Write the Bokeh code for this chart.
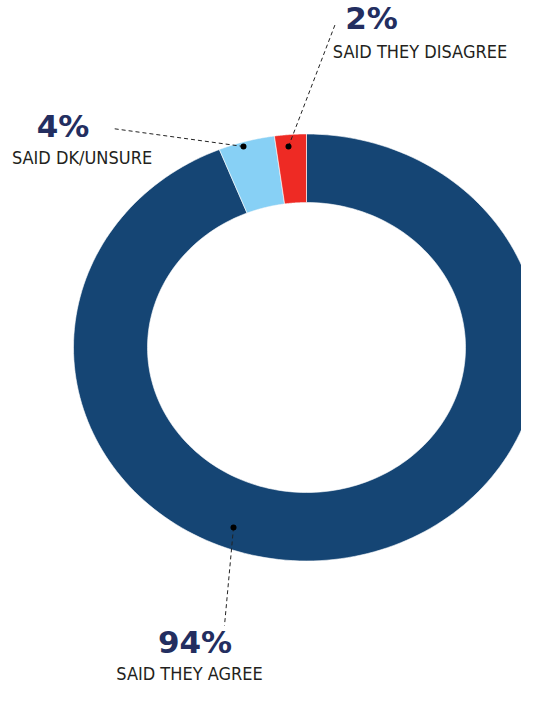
import numpy as np
from bokeh.plotting import figure
from bokeh.models import Range1d
from bokeh.core.properties import value
from bokeh.embed import file_html
from bokeh.resources import INLINE

# ---- data (clockwise from 12 o'clock) ----
categories = ["Agree", "DK/Unsure", "Disagree"]
shares = [93.9, 3.9, 2.2]
pct_labels = ["94%", "4%", "2%"]
sub_labels = ["SAID THEY AGREE", "SAID DK/UNSURE", "SAID THEY DISAGREE"]
colors = ["#154574", "#87D0F5", "#EE2A24"]

# ---- layout (picture-pixel coordinates) ----
CX, CY = 306, 347
RX_OUT, RY_OUT = 233, 213.5
RX_IN, RY_IN = 159, 145
PCT_SIZE, SUB_SIZE = 31, 18
pct_pos = [(194.5, 652), (62.5, 136), (371, 28)]   # visual baseline
sub_pos = [(189, 679), (81.5, 163), (419.5, 57)]
dot_pos = [(233, 527), (243, 146), (288, 146)]
leader_end = [(224, 625), (112, 128), (335, 23)]

W, H = 521, 689
p = figure(width=W, height=H, output_backend="svg", toolbar_location=None,
           x_range=Range1d(0, W), y_range=Range1d(H, 0),
           min_border=0, outline_line_color=None)
p.axis.visible = False
p.grid.visible = False
p.background_fill_color = "white"

# ring slices as elliptical annular wedges
total = sum(shares)
cum = np.concatenate([[0], np.cumsum(shares)]) / total * 2 * np.pi
xs, ys = [], []
for i in range(len(shares)):
    t = np.linspace(cum[i], cum[i + 1], 200)
    xo = CX + RX_OUT * np.sin(t)
    yo = CY - RY_OUT * np.cos(t)
    xi = CX + RX_IN * np.sin(t[::-1])
    yi = CY - RY_IN * np.cos(t[::-1])
    xs.append(list(np.concatenate([xo, xi])))
    ys.append(list(np.concatenate([yo, yi])))
p.patches(xs, ys, fill_color=colors, line_color="white", line_width=0.6)

# leader lines and dots
for (dx, dy), (ex, ey) in zip(dot_pos, leader_end):
    p.line([dx, ex], [dy, ey], line_color="#222222", line_width=1, line_dash="4 3")
p.scatter([d[0] for d in dot_pos], [d[1] for d in dot_pos], size=6,
          fill_color="black", line_color=None)

# labels (svg baseline sits ~0.35em low, compensate)
p.text([q[0] for q in pct_pos], [q[1] - 0.35 * PCT_SIZE for q in pct_pos], text=pct_labels,
       text_font=value("DejaVu Sans"), text_font_style="bold",
       text_font_size=f"{PCT_SIZE}px", text_color="#232E60",
       text_align="center", text_baseline="alphabetic")
p.text([q[0] for q in sub_pos], [q[1] - 0.35 * SUB_SIZE for q in sub_pos], text=sub_labels,
       text_font=value("DejaVu Sans Condensed"),
       text_font_size=f"{SUB_SIZE}px", text_color="#231F20",
       text_align="center", text_baseline="alphabetic")

open("out.html", "w").write(file_html(p, INLINE))
